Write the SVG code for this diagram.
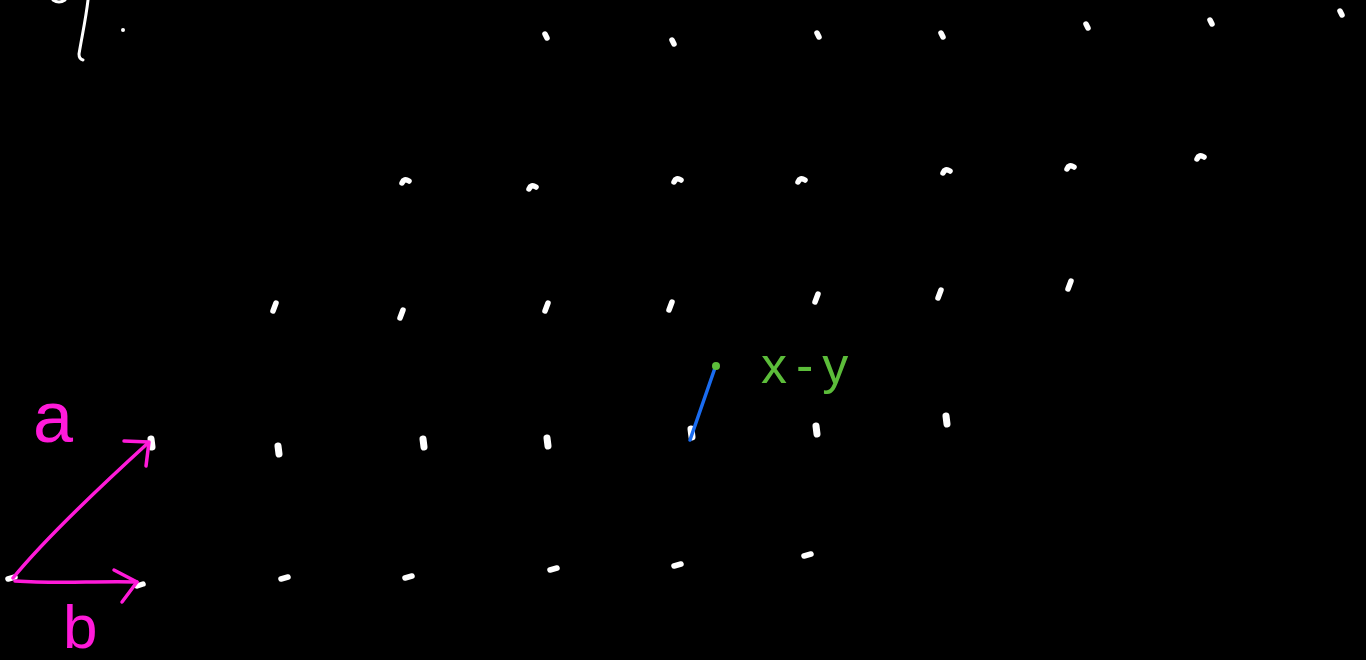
<svg xmlns="http://www.w3.org/2000/svg" width="1366" height="660" viewBox="0 0 1366 660">
<style>
.d{stroke:#fff;stroke-width:5.5;stroke-linecap:round;fill:none}
.d4{stroke:#fff;stroke-width:7;stroke-linecap:round;fill:none}
.w{stroke:#fff;stroke-width:3;stroke-linecap:round;fill:none}
.m{stroke:#ff1ad9;stroke-width:3.5;stroke-linecap:round;stroke-linejoin:round;fill:none}
.ml{fill:#ff1ad9;font-family:'Liberation Sans',sans-serif}
.g{fill:#5cbd3a;font-family:'Liberation Sans',sans-serif}
</style>
<rect width="1366" height="660" fill="#000"/>
<g id="topleft">
<path class="w" d="M53,0 Q59,4 65,0"/>
<path class="w" d="M88,0 C86,18 82,36 79,54 Q79,59 83,60"/>
<circle cx="123" cy="30" r="2" fill="#fff"/>
</g>
<g id="row1">
<path class="d" d="M545,34 L547,38"/>
<path class="d" d="M672,40 L674,44"/>
<path class="d" d="M817,33 L819,37"/>
<path class="d" d="M941,33 L943,37"/>
<path class="d" d="M1086,24 L1088,28"/>
<path class="d" d="M1210,20 L1212,24"/>
<path class="d" d="M1340,11 L1342,15"/>
</g>
<g id="row2">
<path class="d" d="M402,183 Q404,178 409,181"/>
<path class="d" d="M529,189 Q531,184 536,187"/>
<path class="d" d="M674,182 Q676,177 681,180"/>
<path class="d" d="M798,182 Q800,177 805,180"/>
<path class="d" d="M943,173 Q945,168 950,171"/>
<path class="d" d="M1067,169 Q1069,164 1074,167"/>
<path class="d" d="M1197,159 Q1199,154 1204,157"/>
</g>
<g id="row3">
<path class="d" d="M273,311 L276,303"/>
<path class="d" d="M400,318 L403,310"/>
<path class="d" d="M545,311 L548,303"/>
<path class="d" d="M669,310 L672,302"/>
<path class="d" d="M815,302 L818,294"/>
<path class="d" d="M938,298 L941,290"/>
<path class="d" d="M1068,289 L1071,281"/>
</g>
<g id="row4">
<path class="d4" d="M151,439 L152,447"/>
<path class="d4" d="M278,446 L279,454"/>
<path class="d4" d="M423,439 L424,447"/>
<path class="d4" d="M547,438 L548,446"/>
<path class="d4" d="M691,429 L692,437"/>
<path class="d4" d="M816,426 L817,434"/>
<path class="d4" d="M946,416 L947,424"/>
</g>
<g id="row5">
<path class="d" d="M8,579 L15,577"/>
<path class="d" d="M137,586 L143,584"/>
<path class="d" d="M281,579 L288,577"/>
<path class="d" d="M405,578 L412,576"/>
<path class="d" d="M550,570 L557,568"/>
<path class="d" d="M674,566 L681,564"/>
<path class="d" d="M804,556 L811,554"/>
</g>
<g id="connectors">
<path class="m" d="M13,578 C40,545 80,505 148,443"/>
<path class="m" d="M124,441 L149,442 L146,466"/>
<path class="m" d="M15,581 C60,584 90,581 137,582"/>
<path class="m" d="M114,570 L137,582 L122,602"/>
<path d="M716,365 L690,440" stroke="#1a6cf0" stroke-width="3.5" stroke-linecap="round"/>
<circle cx="716" cy="366" r="4" fill="#5cbd3a"/>
</g>
<g id="labels">
<text class="ml" x="33" y="442" font-size="72">a</text>
<text class="ml" x="63" y="648" font-size="62">b</text>
<text class="g" x="761" y="383" font-size="52" letter-spacing="9">x-y</text>
</g>
</svg>
